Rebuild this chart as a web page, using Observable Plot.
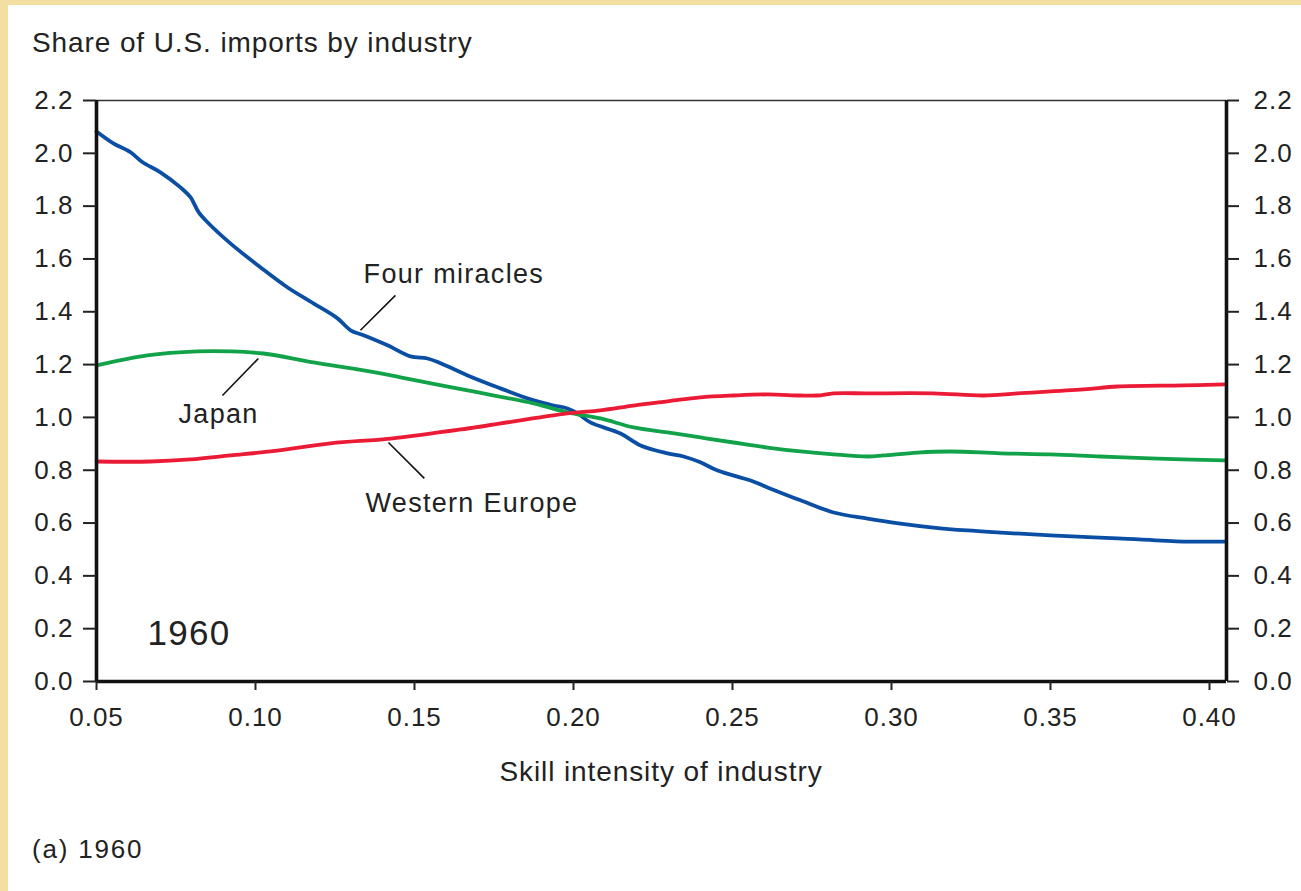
<!DOCTYPE html>
<html>
<head>
<meta charset="utf-8">
<script src="https://cdn.jsdelivr.net/npm/d3@7"></script>
<script src="https://cdn.jsdelivr.net/npm/@observablehq/plot@0.6"></script>
<style>
  html, body { margin: 0; padding: 0; }
  body { width: 1301px; height: 891px; background: #f3dfa2; position: relative; overflow: hidden; font-family: "Liberation Sans", Arial, sans-serif; color: #222; }
  #panel { position: absolute; left: 8px; top: 5px; width: 1293px; height: 886px; background: #fff; }
  #title { position: absolute; left: 32px; top: 29px; font-size: 28px; line-height: 28px; letter-spacing: 0.9px; white-space: nowrap; }
  #chart { position: absolute; left: 0; top: 60px; }
  #xlabel { position: absolute; left: 361px; width: 600px; top: 758px; text-align: center; font-size: 28px; line-height: 28px; letter-spacing: 0.9px; white-space: nowrap; }
  #caption { position: absolute; left: 32px; top: 836px; font-size: 26px; line-height: 26px; letter-spacing: 1.8px; white-space: nowrap; }
  #chart svg g[aria-label="y-axis tick label"] text,
  #chart svg g[aria-label="x-axis tick label"] text { letter-spacing: 1px; }
  #chart svg g[aria-label="text"] text { letter-spacing: 1.3px; }
</style>
</head>
<body>
<div id="panel"></div>
<div id="title">Share of U.S. imports by industry</div>
<div id="chart"></div>
<div id="xlabel">Skill intensity of industry</div>
<div id="caption">(a) 1960</div>
<script>
// ---- data (x = skill intensity, y = share of U.S. imports) ----
const xTicks = [0.05, 0.10, 0.15, 0.20, 0.25, 0.30, 0.35, 0.40];
const yTicks = [0.0, 0.2, 0.4, 0.6, 0.8, 1.0, 1.2, 1.4, 1.6, 1.8, 2.0, 2.2];

const fourMiracles = [
  [0.0500, 2.083], [0.0553, 2.038], [0.0607, 2.004], [0.0645, 1.966], [0.0701, 1.928],
  [0.0764, 1.871], [0.0796, 1.833], [0.0821, 1.777], [0.0849, 1.739], [0.0921, 1.659],
  [0.1016, 1.568], [0.1101, 1.492], [0.1182, 1.432], [0.1258, 1.375], [0.1299, 1.330],
  [0.1340, 1.311], [0.1415, 1.273], [0.1487, 1.231], [0.1541, 1.223], [0.1582, 1.205],
  [0.1667, 1.159], [0.1770, 1.110], [0.1855, 1.072], [0.1937, 1.045], [0.1981, 1.034],
  [0.2013, 1.015], [0.2053, 0.981], [0.2148, 0.939], [0.2211, 0.894], [0.2296, 0.864],
  [0.2346, 0.852], [0.2399, 0.830], [0.2453, 0.799], [0.2557, 0.761], [0.2610, 0.735],
  [0.2714, 0.686], [0.2818, 0.640], [0.2925, 0.617], [0.3028, 0.598], [0.3132, 0.583],
  [0.3239, 0.572], [0.3343, 0.564], [0.3500, 0.553], [0.3711, 0.542], [0.3918, 0.530],
  [0.4047, 0.530]
];

const japan = [
  [0.0500, 1.197], [0.0660, 1.235], [0.0818, 1.250], [0.0921, 1.250], [0.1025, 1.242],
  [0.1182, 1.208], [0.1340, 1.178], [0.1456, 1.152], [0.1667, 1.102], [0.1874, 1.053],
  [0.1981, 1.019], [0.2085, 0.996], [0.2189, 0.962], [0.2296, 0.943], [0.2399, 0.924],
  [0.2503, 0.905], [0.2610, 0.886], [0.2714, 0.871], [0.2818, 0.860], [0.2925, 0.852],
  [0.2975, 0.856], [0.3082, 0.867], [0.3186, 0.871], [0.3343, 0.864], [0.3500, 0.860],
  [0.3657, 0.852], [0.3814, 0.845], [0.4047, 0.837]
];

const westernEurope = [
  [0.0500, 0.833], [0.0670, 0.833], [0.0796, 0.841], [0.0921, 0.856], [0.1047, 0.871],
  [0.1236, 0.902], [0.1425, 0.920], [0.1667, 0.958], [0.1981, 1.015], [0.2085, 1.027],
  [0.2189, 1.045], [0.2296, 1.061], [0.2399, 1.076], [0.2503, 1.083], [0.2610, 1.087],
  [0.2714, 1.083], [0.2767, 1.083], [0.2818, 1.091], [0.2925, 1.091], [0.3132, 1.091],
  [0.3289, 1.083], [0.3396, 1.091], [0.3604, 1.106], [0.3711, 1.117], [0.3918, 1.121],
  [0.4047, 1.125]
];

const seriesNames = ["Four miracles", "Japan", "Western Europe"];
const seriesColors = ["#0b4fa5", "#12a24a", "#ec1b35"];

// annotation labels and leader lines (data units)
const labelTexts = ["Four miracles", "Japan", "Western Europe"];
const labelX = [0.1340, 0.0758, 0.1346];
const labelY = [1.540, 1.010, 0.673];
const leaderX1 = [0.1440, 0.1009, 0.1418];
const leaderY1 = [1.462, 1.223, 0.905];
const leaderX2 = [0.1330, 0.0896, 0.1531];
const leaderY2 = [1.330, 1.083, 0.769];
const yearText = "1960";
const yearX = 0.0660, yearY = 0.179;

const xMin = 0.05, xMax = 0.40535, yMin = 0, yMax = 2.2;

// ---- build ----
const toRows = (arr) => arr.map(([x, y]) => ({x, y}));
const labels = labelTexts.map((t, i) => ({text: t, x: labelX[i], y: labelY[i]}));
const leaders = leaderX1.map((_, i) => ({x1: leaderX1[i], y1: leaderY1[i], x2: leaderX2[i], y2: leaderY2[i]}));
const allSeries = [fourMiracles, japan, westernEurope];

const chart = Plot.plot({
  width: 1301,
  height: 680,
  marginLeft: 96,
  marginRight: 75,
  marginTop: 40,
  marginBottom: 59,
  x: {domain: [xMin, xMax]},
  y: {domain: [yMin, yMax]},
  style: {fontFamily: "'Liberation Sans', Arial, sans-serif", fontSize: "26px", color: "#222", background: "transparent", overflow: "visible"},
  marks: [
    Plot.ruleY([yMax], {stroke: "#333", strokeWidth: 1.5}),
    ...allSeries.map((s, i) => Plot.line(toRows(s), {x: "x", y: "y", stroke: seriesColors[i], strokeWidth: 3.8, curve: "catmull-rom"})),
    Plot.link(leaders, {x1: "x1", y1: "y1", x2: "x2", y2: "y2", stroke: "#111", strokeWidth: 1.6}),
    Plot.text(labels, {x: "x", y: "y", text: "text", textAnchor: "start", fontSize: 27, fill: "#222"}),
    Plot.text([yearText], {x: () => yearX, y: () => yearY, text: d => d, textAnchor: "start", fontSize: 35, fill: "#222", style: "letter-spacing:0.5px"}),
    Plot.ruleX([xMin, xMax], {stroke: "#111", strokeWidth: 3.6}),
    Plot.ruleY([yMin], {x1: xMin, x2: xMax, stroke: "#111", strokeWidth: 3.6}),
    Plot.axisY({anchor: "left", ticks: yTicks, tickSize: 13, tickPadding: 10, tickFormat: d3.format(".1f"), label: null, strokeWidth: 2, stroke: "#222"}),
    Plot.axisY({anchor: "right", ticks: yTicks, tickSize: 12, tickPadding: 15, tickFormat: d3.format(".1f"), label: null, strokeWidth: 2, stroke: "#222"}),
    Plot.axisX({anchor: "bottom", ticks: xTicks, tickSize: 9, tickPadding: 17.5, tickFormat: d3.format(".2f"), label: null, strokeWidth: 2, stroke: "#222"})
  ]
});
document.getElementById("chart").appendChild(chart);
</script>
</body>
</html>
